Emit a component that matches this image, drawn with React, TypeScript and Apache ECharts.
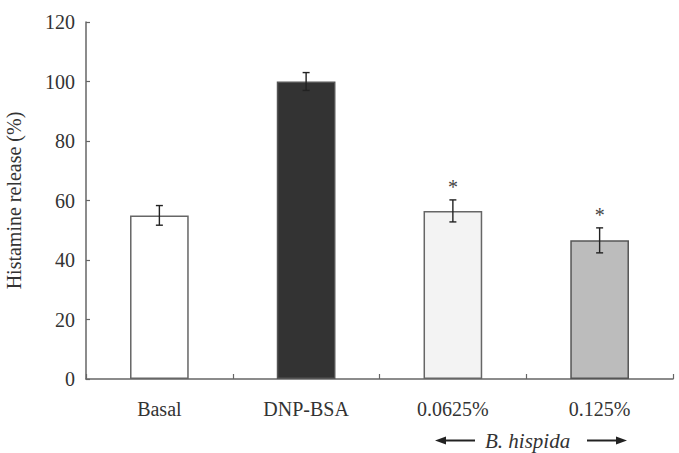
import React, { useEffect, useRef } from "react";
import * as echarts from "echarts";

const categories = ["Basal", "DNP-BSA", "0.0625%", "0.125%"];
const releaseMeans = [55, 100, 56.5, 46.6];
const releaseErrors = [3.3, 3, 3.7, 4.2];
const significant = [false, false, true, true];
const yTicks = [0, 20, 40, 60, 80, 100, 120];

const barFills = ["#ffffff", "#333333", "#f3f3f3", "#bcbcbc"];
const barBorders = ["#666666", "#555555", "#666666", "#555555"];

const FONT = "'Liberation Serif', 'Times New Roman', serif";

export default function App() {
  const ref = useRef<HTMLDivElement>(null);

  useEffect(() => {
    if (!ref.current) return;
    const chart = echarts.init(ref.current, undefined, { renderer: "svg" });

    const barData = releaseMeans.map((v, i) => ({
      value: v,
      itemStyle: {
        color: barFills[i],
        borderColor: barBorders[i],
        borderWidth: 1.5,
      },
    }));

    const errData = releaseMeans.map((v, i) => [i, v, releaseErrors[i], significant[i] ? 1 : 0]);

    chart.setOption({
      animation: false,
      grid: {
        left: 86,
        right: 6,
        top: 22,
        bottom: 74,
        containLabel: false,
        outerBoundsMode: "none",
      },
      xAxis: {
        type: "category",
        data: categories,
        boundaryGap: true,
        axisLine: { lineStyle: { color: "#666", width: 1.5 } },
        axisTick: { show: true, inside: true, length: 5, alignWithLabel: false, lineStyle: { color: "#666", width: 1.2 } },
        axisLabel: { color: "#333", fontFamily: FONT, fontSize: 20, margin: 20 },
      },
      yAxis: {
        type: "value",
        min: 0,
        max: 120,
        interval: 20,
        name: "Histamine release (%)",
        nameLocation: "middle",
        nameGap: 62,
        nameTextStyle: { color: "#333", fontFamily: FONT, fontSize: 20 },
        axisLine: { show: true, lineStyle: { color: "#666", width: 1.5 } },
        axisTick: { show: true, inside: true, length: 4, lineStyle: { color: "#666", width: 1.2 } },
        axisLabel: {
          color: "#333",
          fontFamily: FONT,
          fontSize: 20,
          margin: 11,
          formatter: (v: number) => (yTicks.includes(v) ? String(v) : ""),
        },
        splitLine: { show: false },
      },
      series: [
        {
          type: "bar",
          data: barData,
          barWidth: "40%",
        },
        {
          type: "custom",
          data: errData,
          z: 5,
          renderItem: (params: any, api: any) => {
            const i = api.value(0);
            const mean = api.value(1);
            const err = api.value(2);
            const star = api.value(3);
            const top = api.coord([i, mean + err]);
            const bot = api.coord([i, mean - err]);
            const cap = 3.5;
            const style = { stroke: "#222", lineWidth: 1.4 };
            const children: any[] = [
              { type: "line", shape: { x1: top[0], y1: top[1], x2: bot[0], y2: bot[1] }, style },
              { type: "line", shape: { x1: top[0] - cap, y1: top[1], x2: top[0] + cap, y2: top[1] }, style },
              { type: "line", shape: { x1: bot[0] - cap, y1: bot[1], x2: bot[0] + cap, y2: bot[1] }, style },
            ];
            if (star) {
              children.push({
                type: "text",
                x: top[0],
                y: top[1] - 13,
                style: {
                  text: "*",
                  fill: "#444",
                  font: `20px ${FONT}`,
                  align: "center",
                  verticalAlign: "middle",
                },
              });
            }
            return { type: "group", children };
          },
        },
      ],
      graphic: [
        {
          type: "text",
          left: 485,
          top: 430,
          style: {
            text: "B. hispida",
            fill: "#333",
            font: `italic 21px ${FONT}`,
          },
        },
        { type: "line", shape: { x1: 443, y1: 440.5, x2: 475, y2: 440.5 }, style: { stroke: "#222", lineWidth: 2 } },
        { type: "polygon", shape: { points: [[435, 440.5], [446, 436.5], [446, 444.5]] }, style: { fill: "#222" } },
        { type: "line", shape: { x1: 587, y1: 440.5, x2: 618, y2: 440.5 }, style: { stroke: "#222", lineWidth: 2 } },
        { type: "polygon", shape: { points: [[627, 440.5], [616, 436.5], [616, 444.5]] }, style: { fill: "#222" } },
      ],
    });

    return () => chart.dispose();
  }, []);

  return (
    <div
      ref={ref}
      style={{ position: "absolute", left: 0, top: 0, width: 679, height: 453 }}
    />
  );
}
